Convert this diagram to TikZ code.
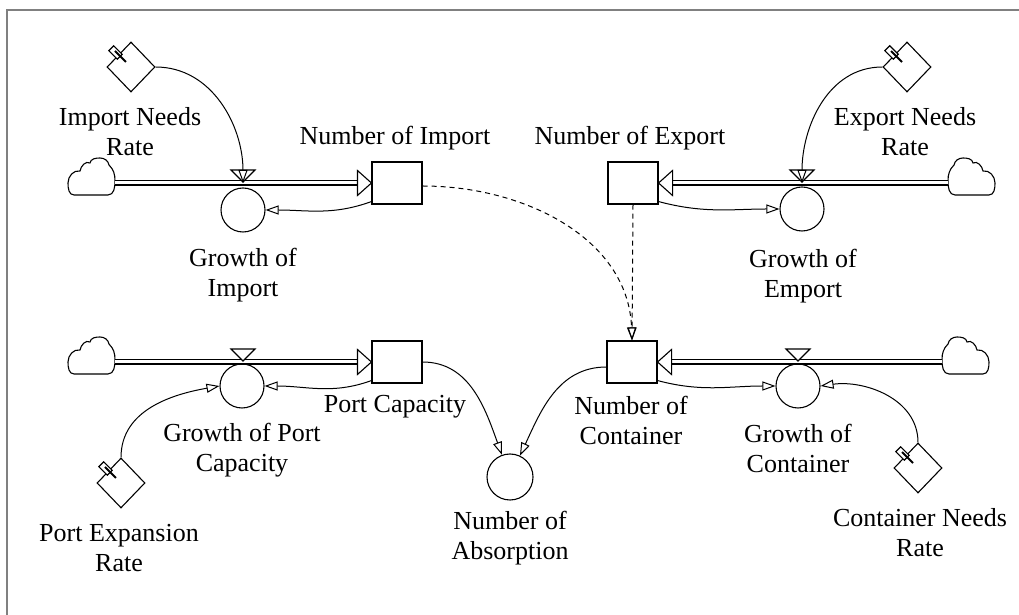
\documentclass[tikz,border=0pt]{standalone}
\usepackage{fontspec}
\setmainfont{Liberation Serif}
\usetikzlibrary{arrows.meta,shapes.geometric}
\begin{document}
\begin{tikzpicture}[x=1pt,y=1pt,
  lbl/.style={font=\fontsize{26}{30}\selectfont, align=center, inner sep=0pt},
  stock/.style={draw, line width=1.1pt, minimum width=50pt, minimum height=42pt, inner sep=0pt, fill=white},
  aux/.style={draw, circle, line width=1.1pt, minimum size=44pt, inner sep=0pt, fill=white},
  const/.style={draw, diamond, line width=1.1pt, minimum width=48pt, minimum height=50pt, inner sep=0pt, fill=white},
  cloudbox/.style={minimum width=46pt, minimum height=36pt, inner sep=0pt},
  pipe/.style={line width=1.2pt, double=white, double distance=3pt},
  link/.style={line width=1pt, -{Triangle[open,length=13pt,width=9pt]}},
  dlink/.style={link, dash pattern=on 5pt off 4pt},
  flowhead/.style={draw, line width=1.1pt, fill=white},
  cloudpic/.pic={\draw[line width=1.1pt, fill=white] (-18,-18) -- (16,-18) to[out=0,in=-90] (23,-4) to[out=90,in=-45] (17,12) to[out=100,in=0] (8,19) to[out=180,in=80] (-2,14) to[out=150,in=80] (-12,6) to[out=170,in=90] (-24,-6) to[out=-90,in=180] (-18,-18) -- cycle;},
  tabpic/.pic={\draw[line width=1.1pt, fill=white, rotate around={-45:(-15.5,14.5)}] (-21.5,11) rectangle (-9.5,18);
               \draw[line width=2pt] (-16,16) -- (-5,5);}
]
\useasboundingbox (0,0) rectangle (1019,615);
\draw[gray, line width=2pt] (7,0) -- (7,605) -- (1019,605);

% stocks
\node[stock] (sI) at (397,432) {};
\node[stock] (sE) at (633,432) {};
\node[stock] (sP) at (397,253) {};
\node[stock] (sC) at (632,253) {};

% auxiliaries / rates
\node[aux] (gI) at (243,405) {};
\node[aux] (gE) at (802,406) {};
\node[aux] (gP) at (242,229) {};
\node[aux] (gC) at (798,229) {};
\node[aux, minimum size=46pt] (nA) at (510,138) {};

% constants
\node[const] (iNR) at (131,548) {};
\node[const] (eNR) at (907,548) {};
\node[const] (pER) at (121,132) {};
\node[const] (cNR) at (918,147) {};
\pic at (iNR.center) {tabpic};
\pic at (eNR.center) {tabpic};
\pic at (pER.center) {tabpic};
\pic at (cNR.center) {tabpic};

% clouds
\node[cloudbox] (cI) at (92,432) {};
\node[cloudbox] (cE) at (971,432) {};
\node[cloudbox] (cP) at (92,253) {};
\node[cloudbox] (cC) at (965,253) {};
\pic at ([yshift=6pt]cI.center) {cloudpic};
\pic[xscale=-1] at ([yshift=6pt]cE.center) {cloudpic};
\pic at ([yshift=6pt]cP.center) {cloudpic};
\pic[xscale=-1] at ([yshift=6pt]cC.center) {cloudpic};

% valves
\coordinate (vI) at (243,432);
\coordinate (vE) at (802,432);
\coordinate (vP) at (243,253);
\coordinate (vC) at (798,253);

% pipes
\draw[pipe] (cI.east) -- ([xshift=-14pt]sI.west);
\draw[pipe] (cE.west) -- ([xshift=14pt]sE.east);
\draw[pipe] (cP.east) -- ([xshift=-14pt]sP.west);
\draw[pipe] (cC.west) -- ([xshift=14pt]sC.east);
\draw[flowhead] (sI.west) -- ++(-14,12.5) -- ++(0,-25) -- cycle;
\draw[flowhead] (sE.east) -- ++(14,12.5) -- ++(0,-25) -- cycle;
\draw[flowhead] (sP.west) -- ++(-14,12.5) -- ++(0,-25) -- cycle;
\draw[flowhead] (sC.east) -- ++(14,12.5) -- ++(0,-25) -- cycle;
\foreach \v in {vI,vE,vP,vC}
  \draw[flowhead] ([shift={(-12,13)}]\v) -- ([shift={(12,13)}]\v) -- ([shift={(0,1)}]\v) -- cycle;

% links
\draw[link] (iNR.east) to[out=0,in=90] (vI);
\draw[link] (eNR.west) to[out=180,in=90] (vE);
\draw[link] ([yshift=3pt]sI.south west) to[out=200,in=0] (gI.east);
\draw[link] ([yshift=3pt]sE.south east) to[out=-15,in=180] (gE.west);
\draw[link] ([yshift=3pt]sP.south west) to[out=200,in=0] (gP.east);
\draw[link] (pER.north) to[out=90,in=190] (gP.west);
\draw[link] ([yshift=3pt]sC.south east) to[out=-15,in=180] (gC.west);
\draw[link] (cNR.north) to[out=90,in=8] (gC.east);
\draw[link] (sP.east) to[out=0,in=110] (nA.110);
\draw[link] ([yshift=-5pt]sC.west) to[out=180,in=65] (nA.65);
\draw[dlink] ([yshift=-3pt]sI.east) to[out=0,in=92] (sC.north);
\draw[dlink] (sE.south) -- (sC.north);

% labels
\node[lbl] (lIN) at (130,483) {Import Needs\\Rate};
\node[lbl] (lNI) at (395,477) {Number of Import};
\node[lbl] (lNE) at (630,477) {Number of Export};
\node[lbl] (lEN) at (905,483) {Export Needs\\Rate};
\node[lbl] (lGI) at (243,340) {Growth of\\Import};
\node[lbl] (lGE) at (803,339) {Growth of\\Emport};
\node[lbl] (lPC) at (395,208) {Port Capacity};
\node[lbl] (lGP) at (242,165) {Growth of Port\\Capacity};
\node[lbl] (lPE) at (119,67) {Port Expansion\\Rate};
\node[lbl] (lNC) at (631,195) {Number of\\Container};
\node[lbl] (lGC) at (798,167) {Growth of\\Container};
\node[lbl] (lCN) at (920,82) {Container Needs\\Rate};
\node[lbl] (lNA) at (510,77) {Number of\\Absorption};
\end{tikzpicture}
\end{document}
